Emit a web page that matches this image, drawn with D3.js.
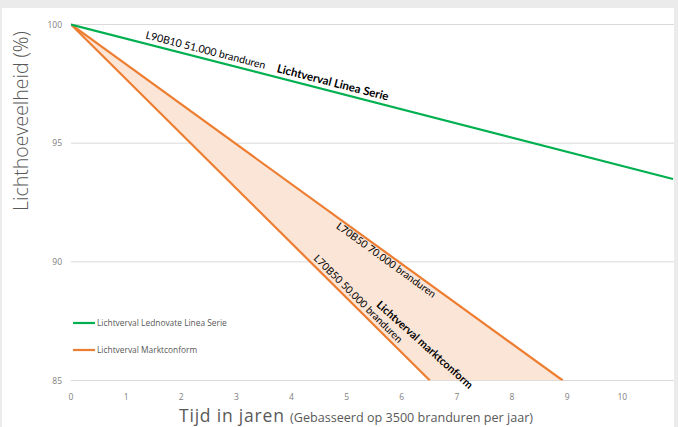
<!DOCTYPE html>
<html>
<head>
<meta charset="utf-8">
<script src="https://cdn.jsdelivr.net/npm/d3@7"></script>
<style>
  body { margin: 0; background: #ececec; }
  svg { display: block; }
</style>
</head>
<body>
<svg id="chart"></svg>
<script>
// data (years, light output %)
const xTicks = [0, 1, 2, 3, 4, 5, 6, 7, 8, 9, 10];
const yTicks = [85, 90, 95, 100];
const lineaSerie = [[0, 100], [10.92, 93.49]];
const markt70k = [[0, 100], [8.92, 85]];
const markt50k = [[0, 100], [6.51, 85]];
const legendLabels = ["Lichtverval Lednovate Linea Serie", "Lichtverval Marktconform"];

const width = 678, height = 427;
const green = "#00b050", orange = "#ed7d31", band = "#fbe5d6";

const svg = d3.select("#chart").attr("width", width).attr("height", height);

// background + white chart panel
svg.append("rect").attr("width", width).attr("height", height).attr("fill", "#ebebeb");
svg.append("rect").attr("x", 2).attr("y", 8).attr("width", 672).attr("height", height - 8).attr("fill", "#fff");

const x = d3.scaleLinear().domain([0, 10.92]).range([71, 673]);
const y = d3.scaleLinear().domain([85, 100]).range([380.5, 24.5]);

// gridlines
svg.append("g")
    .selectAll("line")
    .data(yTicks)
    .join("line")
    .attr("x1", x(0)).attr("x2", 674)
    .attr("y1", d => y(d)).attr("y2", d => y(d))
    .attr("stroke", "#d9d9d9").attr("stroke-width", 1);

// y tick labels
svg.append("g")
    .selectAll("text")
    .data(yTicks)
    .join("text")
    .attr("x", 62).attr("y", d => y(d) + 3)
    .attr("text-anchor", "end")
    .attr("font-family", "Open Sans, sans-serif")
    .attr("font-size", 8.5).attr("fill", "#808080")
    .text(d => d);

// x tick labels
svg.append("g")
    .selectAll("text")
    .data(xTicks)
    .join("text")
    .attr("x", d => x(d)).attr("y", 400)
    .attr("text-anchor", "middle")
    .attr("font-family", "Open Sans, sans-serif")
    .attr("font-size", 8.5).attr("fill", "#808080")
    .text(d => d);

// clip to plot area
svg.append("clipPath").attr("id", "plot")
    .append("rect").attr("x", x(0)).attr("y", 0).attr("width", 674 - x(0)).attr("height", y(85));

const line = d3.line().x(d => x(d[0])).y(d => y(d[1]));

// band between the two market lines
const bandPts = markt70k.concat(markt50k.slice().reverse());
svg.append("path")
    .attr("clip-path", "url(#plot)")
    .attr("d", line(bandPts) + "Z")
    .attr("fill", band);

[markt70k, markt50k].forEach(s => {
    svg.append("path")
        .attr("clip-path", "url(#plot)")
        .attr("d", line(s))
        .attr("fill", "none").attr("stroke", orange).attr("stroke-width", 2.2);
});

svg.append("path")
    .attr("clip-path", "url(#plot)")
    .attr("d", line(lineaSerie))
    .attr("fill", "none").attr("stroke", green).attr("stroke-width", 2.2);

// angle of a series in screen space
function angle(s) {
    const a = s[0], b = s[s.length - 1];
    return Math.atan2(y(b[1]) - y(a[1]), x(b[0]) - x(a[0])) * 180 / Math.PI;
}

// annotation along a line: t = year, off = perpendicular offset (px, negative = above)
function annotate(s, t, off, txt, bold, size) {
    const a = s[0], b = s[s.length - 1];
    const v = a[1] + (b[1] - a[1]) * (t - a[0]) / (b[0] - a[0]);
    const ang = angle(s);
    svg.append("text")
        .attr("transform", `translate(${x(t)},${y(v)}) rotate(${ang}) translate(0,${off})`)
        .attr("font-family", "Lato, Carlito, sans-serif")
        .attr("font-size", size)
        .attr("font-weight", bold ? "bold" : "normal")
        .attr("fill", "#000")
        .text(txt);
}

annotate(lineaSerie, 1.32, -5, "L90B10 51.000 branduren", false, 10.6);
annotate(lineaSerie, 3.70, -5, "Lichtverval Linea Serie", true, 11.5);
annotate(markt70k, 4.9, 9.5, "L70B50 70.000 branduren", false, 10.3);
annotate(markt50k, 4.34, -4, "L70B50 50.000 branduren", false, 10.3);

// bold label in the middle of the band
svg.append("text")
    .attr("transform", `translate(${x(5.53)},${y(88.15)}) rotate(42)`)
    .attr("font-family", "Lato, Carlito, sans-serif")
    .attr("font-size", 10.9).attr("font-weight", "bold")
    .text("Lichtverval marktconform");

// legend
const legend = svg.append("g")
    .selectAll("g")
    .data(legendLabels)
    .join("g")
    .attr("transform", (d, i) => `translate(73,${323 + i * 27})`);
legend.append("line")
    .attr("x1", 0).attr("x2", 22)
    .attr("stroke", (d, i) => i ? orange : green).attr("stroke-width", 2.2);
legend.append("text")
    .attr("x", 24).attr("y", 3)
    .attr("font-family", "Open Sans, sans-serif")
    .attr("font-size", 8.4).attr("fill", "#595959")
    .text(d => d);

// axis titles
const xt = svg.append("text")
    .attr("x", 356).attr("y", 422)
    .attr("text-anchor", "middle")
    .attr("font-family", "Open Sans, sans-serif")
    .attr("fill", "#595959");
xt.append("tspan").attr("font-size", 17.5).attr("letter-spacing", 0.8).text("Tijd in jaren ");
xt.append("tspan").attr("font-size", 12.6).text("(Gebasseerd op 3500 branduren per jaar)");

svg.append("text")
    .attr("transform", "translate(28,121) rotate(-90)")
    .attr("text-anchor", "middle")
    .attr("font-family", "Open Sans, sans-serif")
    .attr("font-weight", 300)
    .attr("font-size", 19.5).attr("fill", "#595959")
    .text("Lichthoeveelheid (%)");
</script>
</body>
</html>
